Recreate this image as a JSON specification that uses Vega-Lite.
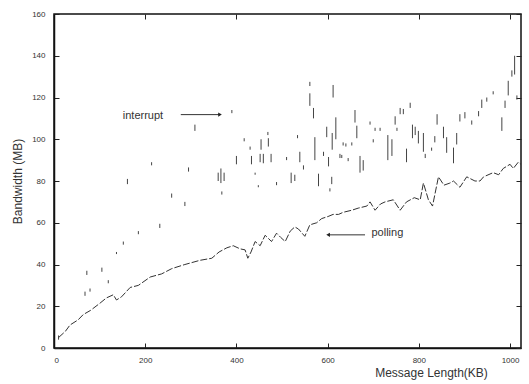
{
  "$schema": "https://vega.github.io/schema/vega-lite/v6.json",
  "width": 467,
  "height": 334,
  "autosize": {"type": "none"},
  "padding": {"left": 54, "top": 14, "right": 8, "bottom": 36},
  "background": "white",
  "config": {
    "view": {"stroke": "#111", "strokeWidth": 1.5},
    "font": "Liberation Sans",
    "axis": {"grid": false, "domainColor": "#111", "domainWidth": 1.5, "tickColor": "#222", "tickWidth": 1, "labelColor": "#333", "titleColor": "#333", "labelFont": "Liberation Sans", "titleFont": "Liberation Sans", "titleFontWeight": "normal"}
  },
  "datasets": {
    "polling": [
      {"len": 10, "bw": 5}, {"len": 25, "bw": 8}, {"len": 35, "bw": 11}, {"len": 53, "bw": 13.5}, {"len": 64, "bw": 16},
      {"len": 80, "bw": 18}, {"len": 101, "bw": 21.5}, {"len": 115, "bw": 24}, {"len": 130, "bw": 25.5}, {"len": 137, "bw": 23},
      {"len": 148, "bw": 24.5}, {"len": 167, "bw": 29}, {"len": 185, "bw": 30}, {"len": 211, "bw": 34}, {"len": 236, "bw": 35.5},
      {"len": 258, "bw": 38}, {"len": 287, "bw": 40}, {"len": 320, "bw": 42}, {"len": 346, "bw": 43}, {"len": 362, "bw": 46},
      {"len": 379, "bw": 48}, {"len": 393, "bw": 49}, {"len": 408, "bw": 47.5}, {"len": 419, "bw": 47}, {"len": 425, "bw": 43},
      {"len": 432, "bw": 46}, {"len": 441, "bw": 51}, {"len": 452, "bw": 49}, {"len": 463, "bw": 54}, {"len": 477, "bw": 51},
      {"len": 488, "bw": 55}, {"len": 497, "bw": 53}, {"len": 507, "bw": 51}, {"len": 518, "bw": 56}, {"len": 528, "bw": 58},
      {"len": 536, "bw": 57}, {"len": 550, "bw": 53.5}, {"len": 561, "bw": 59}, {"len": 576, "bw": 60}, {"len": 587, "bw": 62},
      {"len": 601, "bw": 63}, {"len": 612, "bw": 64}, {"len": 624, "bw": 64}, {"len": 634, "bw": 65}, {"len": 653, "bw": 66},
      {"len": 667, "bw": 67}, {"len": 686, "bw": 68}, {"len": 693, "bw": 70}, {"len": 704, "bw": 66}, {"len": 716, "bw": 69},
      {"len": 726, "bw": 70}, {"len": 744, "bw": 71}, {"len": 759, "bw": 66}, {"len": 773, "bw": 70}, {"len": 790, "bw": 72},
      {"len": 803, "bw": 71}, {"len": 810, "bw": 79}, {"len": 821, "bw": 71}, {"len": 830, "bw": 68}, {"len": 843, "bw": 82},
      {"len": 855, "bw": 78}, {"len": 868, "bw": 79}, {"len": 876, "bw": 80}, {"len": 890, "bw": 77}, {"len": 905, "bw": 82},
      {"len": 923, "bw": 80}, {"len": 934, "bw": 80}, {"len": 942, "bw": 82}, {"len": 963, "bw": 84}, {"len": 975, "bw": 83},
      {"len": 985, "bw": 86}, {"len": 1000, "bw": 88}, {"len": 1007, "bw": 86}, {"len": 1018, "bw": 89}, {"len": 1024, "bw": 88}
    ],
    "interrupt": [
      {"len": 10, "lo": 4, "hi": 6}, {"len": 68, "lo": 25, "hi": 27}, {"len": 79, "lo": 27, "hi": 28.5}, {"len": 72, "lo": 35, "hi": 37},
      {"len": 105, "lo": 36.5, "hi": 38.5}, {"len": 119, "lo": 31, "hi": 32.5}, {"len": 137, "lo": 45, "hi": 46}, {"len": 152, "lo": 49.5, "hi": 51},
      {"len": 161, "lo": 78.5, "hi": 81}, {"len": 185, "lo": 54.5, "hi": 56}, {"len": 214, "lo": 87.5, "hi": 89}, {"len": 232, "lo": 57.5, "hi": 59.5},
      {"len": 258, "lo": 72, "hi": 74}, {"len": 287, "lo": 68, "hi": 70}, {"len": 295, "lo": 84.5, "hi": 86.5}, {"len": 309, "lo": 104, "hi": 107},
      {"len": 368, "lo": 73.5, "hi": 75}, {"len": 390, "lo": 112.5, "hi": 114},
      {"len": 360, "lo": 80, "hi": 84}, {"len": 366, "lo": 79, "hi": 86}, {"len": 373, "lo": 80, "hi": 84}, {"len": 400, "lo": 88, "hi": 92},
      {"len": 417, "lo": 99, "hi": 100.5}, {"len": 430, "lo": 95, "hi": 96.5}, {"len": 433, "lo": 88, "hi": 92}, {"len": 441, "lo": 83, "hi": 84},
      {"len": 448, "lo": 77, "hi": 78}, {"len": 454, "lo": 95, "hi": 100}, {"len": 452, "lo": 89, "hi": 93}, {"len": 459, "lo": 88.5, "hi": 93},
      {"len": 469, "lo": 102, "hi": 103.5}, {"len": 470, "lo": 96.5, "hi": 100.5}, {"len": 476, "lo": 89, "hi": 93}, {"len": 488, "lo": 78, "hi": 79.5},
      {"len": 510, "lo": 90, "hi": 91.5}, {"len": 520, "lo": 79, "hi": 84}, {"len": 528, "lo": 80, "hi": 83}, {"len": 534, "lo": 100.5, "hi": 102},
      {"len": 539, "lo": 89, "hi": 94}, {"len": 547, "lo": 85.5, "hi": 87.5},
      {"len": 561, "lo": 125.5, "hi": 127.5}, {"len": 561, "lo": 116, "hi": 122}, {"len": 569, "lo": 110, "hi": 115}, {"len": 572, "lo": 90, "hi": 101},
      {"len": 580, "lo": 77.5, "hi": 83.5}, {"len": 591, "lo": 92, "hi": 94}, {"len": 598, "lo": 101, "hi": 106}, {"len": 602, "lo": 87, "hi": 91.5},
      {"len": 605, "lo": 75, "hi": 76.5}, {"len": 609, "lo": 78.5, "hi": 82}, {"len": 610, "lo": 95, "hi": 103}, {"len": 612, "lo": 120, "hi": 126},
      {"len": 618, "lo": 100, "hi": 110.5}, {"len": 627, "lo": 91, "hi": 93}, {"len": 631, "lo": 91, "hi": 92.5}, {"len": 634, "lo": 97, "hi": 98.5},
      {"len": 640, "lo": 96.5, "hi": 98}, {"len": 645, "lo": 89.5, "hi": 91}, {"len": 653, "lo": 97, "hi": 98.5}, {"len": 660, "lo": 108, "hi": 114},
      {"len": 664, "lo": 100.5, "hi": 106.5}, {"len": 671, "lo": 84, "hi": 92}, {"len": 678, "lo": 85, "hi": 90}, {"len": 693, "lo": 107, "hi": 108.5},
      {"len": 700, "lo": 98.5, "hi": 100}, {"len": 704, "lo": 104, "hi": 105.5}, {"len": 715, "lo": 104, "hi": 105.5}, {"len": 732, "lo": 90, "hi": 102},
      {"len": 741, "lo": 92, "hi": 100}, {"len": 748, "lo": 107, "hi": 111}, {"len": 752, "lo": 104, "hi": 105.5}, {"len": 759, "lo": 112, "hi": 115},
      {"len": 766, "lo": 112, "hi": 114.5}, {"len": 773, "lo": 89, "hi": 95.5}, {"len": 781, "lo": 115, "hi": 117.5}, {"len": 786, "lo": 100.5, "hi": 107},
      {"len": 792, "lo": 102, "hi": 106},
      {"len": 799, "lo": 98, "hi": 104}, {"len": 810, "lo": 94, "hi": 103}, {"len": 814, "lo": 91, "hi": 93}, {"len": 828, "lo": 94.5, "hi": 96},
      {"len": 835, "lo": 98.5, "hi": 101.5}, {"len": 840, "lo": 107, "hi": 112}, {"len": 854, "lo": 100.5, "hi": 106}, {"len": 861, "lo": 93.5, "hi": 101},
      {"len": 876, "lo": 88.5, "hi": 96}, {"len": 883, "lo": 97.5, "hi": 103}, {"len": 890, "lo": 108.5, "hi": 112}, {"len": 901, "lo": 110, "hi": 113},
      {"len": 916, "lo": 107, "hi": 109}, {"len": 931, "lo": 111, "hi": 113.5}, {"len": 938, "lo": 115, "hi": 119}, {"len": 949, "lo": 118, "hi": 120},
      {"len": 963, "lo": 121.5, "hi": 123}, {"len": 982, "lo": 104, "hi": 110.5}, {"len": 989, "lo": 115, "hi": 118.5}, {"len": 996, "lo": 121, "hi": 128},
      {"len": 1004, "lo": 130, "hi": 133}, {"len": 1010, "lo": 131, "hi": 140}, {"len": 1015, "lo": 119, "hi": 121}
    ],
    "notes": [
      {"label": "interrupt", "tx": 195, "ty": 111, "from": 278, "to": 364, "ay": 111.8},
      {"label": "polling", "tx": 731, "ty": 55.2, "from": 682, "to": 601, "ay": 54.2}
    ]
  },
  "layer": [
    {
      "data": {"name": "polling"},
      "mark": {"type": "line", "color": "#333", "strokeWidth": 1, "strokeDash": [7, 2]},
      "encoding": {
        "x": {"field": "len", "type": "quantitative", "scale": {"domain": [0, 1024], "nice": false},
          "axis": {"orient": "bottom", "values": [0, 200, 400, 600, 800, 1000], "format": "d", "tickSize": -5, "labelPadding": 13, "labelFontSize": 8, "title": "Message Length(KB)", "titleFontSize": 12, "titleAnchor": "start", "titleAlign": "center", "titleX": 377, "titleY": 19, "titleBaseline": "top"}},
        "y": {"field": "bw", "type": "quantitative", "scale": {"domain": [0, 160], "nice": false},
          "axis": {"orient": "left", "values": [0, 20, 40, 60, 80, 100, 120, 140, 160], "format": "d", "tickSize": -5, "labelPadding": 14, "labelFontSize": 8, "title": "Bandwidth (MB)", "titleFontSize": 12, "titlePadding": 7}}
      }
    },
    {
      "data": {"name": "interrupt"},
      "mark": {"type": "rule", "color": "#444", "strokeWidth": 1},
      "encoding": {
        "x": {"field": "len", "type": "quantitative", "axis": {"orient": "top", "values": [0, 200, 400, 600, 800, 1000], "tickSize": -5, "labels": false, "title": null, "domain": false}},
        "y": {"field": "lo", "type": "quantitative", "axis": {"orient": "right", "values": [0, 20, 40, 60, 80, 100, 120, 140, 160], "tickSize": -5, "labels": false, "title": null, "domain": false}},
        "y2": {"field": "hi"}
      }
    },
    {
      "data": {"name": "notes"},
      "mark": {"type": "rule", "color": "#333", "strokeWidth": 1},
      "encoding": {
        "x": {"field": "from", "type": "quantitative", "axis": null},
        "x2": {"field": "to"},
        "y": {"field": "ay", "type": "quantitative", "axis": null}
      }
    },
    {
      "data": {"name": "notes"},
      "transform": [{"filter": "datum.label == 'interrupt'"}],
      "mark": {"type": "point", "shape": "triangle-right", "filled": true, "color": "#222", "size": 18, "opacity": 1},
      "encoding": {
        "x": {"field": "to", "type": "quantitative", "axis": null},
        "y": {"field": "ay", "type": "quantitative", "axis": null}
      }
    },
    {
      "data": {"name": "notes"},
      "transform": [{"filter": "datum.label == 'polling'"}],
      "mark": {"type": "point", "shape": "triangle-left", "filled": true, "color": "#222", "size": 18, "opacity": 1},
      "encoding": {
        "x": {"field": "to", "type": "quantitative", "axis": null},
        "y": {"field": "ay", "type": "quantitative", "axis": null}
      }
    },
    {
      "data": {"name": "notes"},
      "mark": {"type": "text", "font": "Liberation Sans", "fontSize": 11, "fill": "#333", "align": "center", "baseline": "middle"},
      "encoding": {
        "x": {"field": "tx", "type": "quantitative", "axis": null},
        "y": {"field": "ty", "type": "quantitative", "axis": null},
        "text": {"field": "label"}
      }
    }
  ],
  "resolve": {"axis": {"x": "independent", "y": "independent"}}
}
